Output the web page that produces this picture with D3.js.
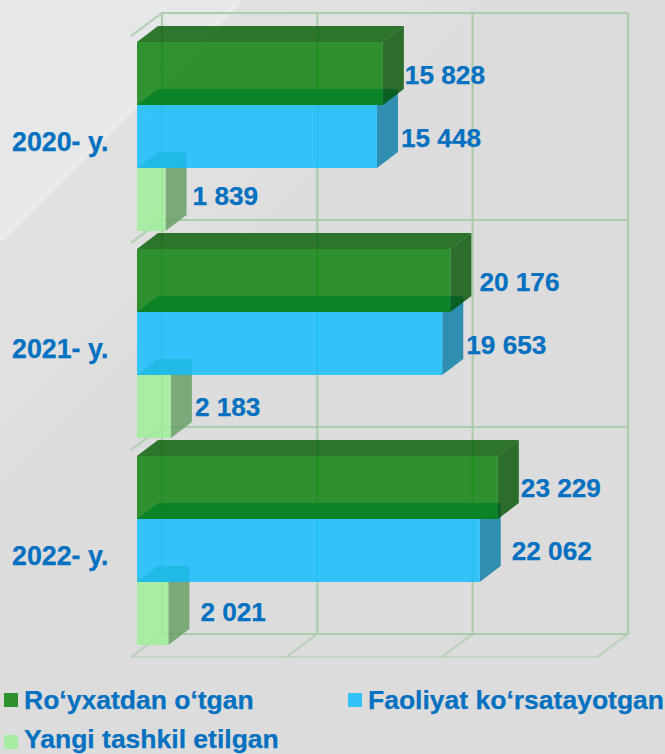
<!DOCTYPE html>
<html><head><meta charset="utf-8">
<script src="https://cdn.jsdelivr.net/npm/d3@7"></script>
<style>html,body{margin:0;padding:0;background:#dcdcdc}svg{display:block}text{font-family:"Liberation Sans",Arial,sans-serif;font-weight:bold;fill:#0070c0;stroke:#0070c0;stroke-width:.25}</style>
</head><body><svg id="c" width="665" height="754"></svg>
<script>
const years = ["2020- y.", "2021- y.", "2022- y."];
const seriesNames = ["Ro‘yxatdan o‘tgan", "Faoliyat ko‘rsatayotgan", "Yangi tashkil etilgan"];
const registered = [15828, 20176, 23229];
const operating = [15448, 19653, 22062];
const created = [1839, 2183, 2021];
const xTicks = [0, 10000, 20000, 30000];
const barColors = ["#057e05", "#0bbdff", "#9cf097"];
const legendColors = ["#2e902e", "#33c3fb", "#a8eca4"];
const labelNudge = [[22,0],[24,0],[27,0],[29,0],[24,0],[24,0],[23,0],[32,0],[32,0]];

const values = [registered, operating, created];
const svg = d3.select("#c");
const W = 665, H = 754;
const defs = svg.append("defs");
defs.append("filter").attr("id","soft").append("feGaussianBlur").attr("stdDeviation",1.6);
const shade = defs.append("linearGradient").attr("id","shade").attr("x1",0).attr("y1",0).attr("x2",1).attr("y2",1);
shade.append("stop").attr("offset",0).attr("stop-color","#e2e2e3");
shade.append("stop").attr("offset",1).attr("stop-color","#dcdcdc");
svg.append("rect").attr("width",W).attr("height",H).attr("fill","#dcdcdc");
svg.append("path").attr("d",d3.line()([[240,0],[0,240],[0,480],[480,0]])).attr("fill","url(#shade)");
svg.append("path").attr("d",d3.line()([[0,0],[240,0],[0,240]])).attr("fill","#e6e7e9");
svg.append("path").attr("d",d3.line()([[240,0],[0,240]])).attr("stroke","#ececee").attr("stroke-width",5).attr("filter","url(#soft)").attr("fill","none");

const depth = {dx:21, dy:-16};
const x = d3.scaleLinear().domain([0,30000]).range([137,603]);
const yBand = d3.scaleBand().domain(years).range([42,663]);
const yInner = d3.scaleBand().domain(seriesNames).range([0,189]);

// grid
const wall = {dx:25, dy:-29};
const floor = {dx:-6, dy:-6};
const gridColor = "#abcdab";
const grid = svg.append("g").attr("fill","none").attr("stroke",gridColor).attr("stroke-width",2.2);
const yEdges = years.map(y=>yBand(y)).concat([yBand.range()[1]]);
yEdges.forEach(y=>{
  grid.append("line").attr("x1",x(0)+wall.dx).attr("x2",x(30000)+wall.dx).attr("y1",y+wall.dy).attr("y2",y+wall.dy);
  if (y < yEdges[3]) grid.append("line").attr("x1",x(0)+wall.dx).attr("x2",x(0)+floor.dx).attr("y1",y+wall.dy).attr("y2",y+wall.dy+23).attr("stroke-opacity",.8);
});
xTicks.forEach(t=>{
  grid.append("line").attr("x1",x(t)+wall.dx).attr("x2",x(t)+wall.dx).attr("y1",yEdges[0]+wall.dy).attr("y2",yEdges[3]+wall.dy);
  grid.append("line").attr("x1",x(t)+wall.dx).attr("x2",x(t)+floor.dx).attr("y1",yEdges[3]+wall.dy).attr("y2",yEdges[3]+wall.dy+23).attr("stroke-opacity",.65);
});
grid.append("line").attr("x1",x(0)+floor.dx).attr("x2",x(30000)+floor.dx).attr("y1",yEdges[3]+wall.dy+23).attr("y2",yEdges[3]+wall.dy+23).attr("stroke-opacity",.5);

// bars: lowest series first, so upper ones overlay
const line = d3.line();
const h = yInner.bandwidth();
const alpha = 0.81;
years.forEach((yr,i)=>{
  for(let s=2;s>=0;s--){
    const X0=x(0), X1=x(values[s][i]), Y0=yBand(yr)+yInner(seriesNames[s]), c=d3.color(barColors[s]);
    const b=svg.append("g").attr("fill-opacity",alpha);
    const top=d3.rgb(c.r*.72,c.g*.72,c.b*.72), side=d3.rgb(c.r*.65,c.g*.65,c.b*.65);
    b.append("path").attr("fill",top).attr("d",line([[X0,Y0],[X0+depth.dx,Y0+depth.dy],[X1+depth.dx,Y0+depth.dy],[X1,Y0]])+"Z");
    b.append("path").attr("fill",side).attr("d",line([[X1,Y0],[X1+depth.dx,Y0+depth.dy],[X1+depth.dx,Y0+h+depth.dy],[X1,Y0+h]])+"Z");
    b.append("rect").attr("x",X0).attr("y",Y0).attr("width",X1-X0).attr("height",h).attr("fill",c);
  }
});

// value labels
const fmt = v => d3.format(",")(v).replace(",", " ");
const labelDy = [[75,138,196],[282,345,407],[488,551,612]];
years.forEach((yr,i)=>{
  seriesNames.forEach((n,s)=>{
    svg.append("text").attr("x",x(values[s][i])+labelNudge[i*3+s][0]).attr("y",labelDy[i][s]).attr("dy","0.36em")
      .attr("font-size",26.2).text(fmt(values[s][i]));
  });
  svg.append("text").attr("x",12).attr("y",yBand(yr)+99).attr("dy","0.36em").attr("font-size",26.8).text(yr);
});

// legend
const legendPos=[[5,709,693],[349,709,693],[5,748,735]];
seriesNames.forEach((n,s)=>{
  const [lx,base,sq]=legendPos[s];
  svg.append("rect").attr("x",lx-1).attr("y",sq).attr("width",14).attr("height",14).attr("fill",legendColors[s]);
  svg.append("text").attr("x",lx+19).attr("y",base).attr("font-size",26.5).text(n);
});
</script></body></html>
